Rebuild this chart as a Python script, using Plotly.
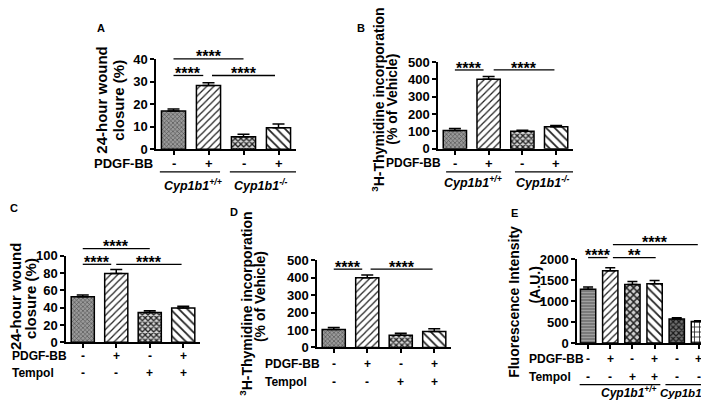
import plotly.graph_objects as go

W, H = 709, 401
FONT = "Liberation Sans, Arial, sans-serif"

# ---------------- data ----------------
a_vals = [17.0, 28.3, 5.6, 9.6]
a_errs = [0.9, 1.3, 1.1, 1.6]
a_ticks = [0, 10, 20, 30, 40]

b_vals = [105, 402, 101, 128]
b_errs = [12, 16, 6, 6]
b_ticks = [0, 100, 200, 300, 400, 500]

c_vals = [52.5, 79.5, 34.5, 39.5]
c_errs = [2.2, 4.4, 1.9, 2.2]
c_ticks = [0, 20, 40, 60, 80, 100]

d_vals = [103, 400, 70, 92]
d_errs = [12, 16, 12, 15]
d_ticks = [0, 100, 200, 300, 400, 500]

e_vals = [1285, 1730, 1400, 1420, 577, 517]
e_errs = [55, 75, 70, 75, 25, 15]
e_ticks = [0, 500, 1000, 1500, 2000]

pdgf_ab = ["-", "+", "-", "+"]
pdgf_cd = ["-", "+", "-", "+"]
tempol_cd = ["-", "-", "+", "+"]
pdgf_e = ["-", "+", "-", "+", "-", "+"]
tempol_e = ["-", "-", "+", "+", "-", "-"]
genotypes = ["<i>Cyp1b1</i><sup><i>+/+</i></sup>", "<i>Cyp1b1</i><sup><i>-/-</i></sup>"]

a_title = ["24-hour wound", "closure (%)"]
b_title = ["<sup>3</sup>H-Thymidine incorporation", "(% of Vehicle)"]
e_title = ["Fluorescence Intensity", "(A.U.)"]

# significance: (from category, to category, level, label)
a_sig = [(0.0, 2.0, 40.2, "****"), (0.0, 0.85, 32.8, "****"), (1.1, 2.9, 32.8, "****")]
b_sig = [(0.0, 0.85, 455, "****"), (1.15, 2.95, 455, "****")]
c_sig = [(0.0, 2.0, 108, "****"), (0.0, 0.85, 90, "****"), (1.0, 2.95, 90, "****")]
d_sig = [(0.0, 0.85, 450, "****"), (1.1, 2.95, 450, "****")]
e_sig = [(0.0, 0.88, 2046, "****"), (1.12, 3.05, 2046, "**"), (1.12, 4.95, 2357, "****")]

# ---------------- geometry (pixels) ----------------
panels = {
    "A": dict(sid="", x0=148, x1=288, yz=139.5, yt=46, top=40, n=4),
    "B": dict(sid="2", x0=430, x1=565, yz=139, yt=49, top=500, n=4),
    "C": dict(sid="3", x0=58, x1=192, yz=340, yt=250, top=100, n=4),
    "D": dict(sid="4", x0=309, x1=443, yz=345.3, yt=255, top=500, n=4),
    "E": dict(sid="5", x0=569, x1=702, yz=340.7, yt=254, top=2000, n=6),
}


def cx(g, cat):
    return g["x0"] + (cat + 0.5) / g["n"] * (g["x1"] - g["x0"])


def vy(g, v):
    return g["yz"] - v / g["top"] * (g["yz"] - g["yt"])


def PX(x):
    return x / W


def PY(y):
    return 1 - y / H


# bar styles
GRAY = dict(shape="x", fg="#4a4a4a", bg="#9a9a9a", size=3, sol=0.35)
FWD = dict(shape="/", fg="#222222", bg="white", size=5, sol=0.25)
CHK = dict(shape="x", fg="#222222", bg="#d8d8d8", size=4, sol=0.55)
BCK = dict(shape="\\", fg="#222222", bg="white", size=6, sol=0.3)
HLN = dict(shape="-", fg="#555555", bg="#a8a8a8", size=3, sol=0.4)
CHK2 = dict(shape="x", fg="#222222", bg="#d0d0d0", size=5, sol=0.5)
DCHK = dict(shape="x", fg="#1a1a1a", bg="#707070", size=4, sol=0.5)
GRID = dict(shape="+", fg="#222222", bg="white", size=5, sol=0.3)

styles4 = [GRAY, FWD, CHK, BCK]
styles6 = [HLN, FWD, CHK2, BCK, DCHK, GRID]

fig = go.Figure()
layout = dict(
    width=W, height=H, margin=dict(l=0, r=0, t=0, b=0),
    paper_bgcolor="white", plot_bgcolor="white", showlegend=False,
    font=dict(family=FONT, size=12, color="black", weight="bold"),
    bargap=0.3,
)
shapes = []
annotations = []


def ann(x, y, text, size=12, angle=0, xanchor="center"):
    annotations.append(dict(
        x=PX(x), y=PY(y), xref="paper", yref="paper", text=text, showarrow=False,
        textangle=angle, xanchor=xanchor, yanchor="middle",
        font=dict(family=FONT, size=size, color="black", weight="bold"),
    ))


def hline(x0, x1, y, w=1.3):
    shapes.append(dict(type="line", xref="paper", yref="paper",
                       x0=PX(x0), x1=PX(x1), y0=PY(y), y1=PY(y),
                       line=dict(color="black", width=w)))


for key, vals, errs, ticks, styles in [
    ("A", a_vals, a_errs, a_ticks, styles4),
    ("B", b_vals, b_errs, b_ticks, styles4),
    ("C", c_vals, c_errs, c_ticks, styles4),
    ("D", d_vals, d_errs, d_ticks, styles4),
    ("E", e_vals, e_errs, e_ticks, styles6),
]:
    g = panels[key]
    sid = g["sid"]
    n = g["n"]
    cats = list(range(n))
    fig.add_trace(go.Bar(
        x=cats, y=vals, xaxis="x" + sid, yaxis="y" + sid, width=0.69,
        marker=dict(
            color="white", line=dict(color="black", width=1.5),
            pattern=dict(
                shape=[s["shape"] for s in styles],
                fgcolor=[s["fg"] for s in styles],
                bgcolor=[s["bg"] for s in styles],
                size=[s["size"] for s in styles],
                solidity=[s["sol"] for s in styles],
                fillmode="replace",
            ),
        ),
        error_y=dict(type="data", array=errs, arrayminus=[0] * n, symmetric=False,
                     color="black", thickness=1.5, width=6 if n == 4 else 5),
        hoverinfo="skip",
    ))
    layout["xaxis" + sid] = dict(
        domain=[PX(g["x0"]), PX(g["x1"])], range=[-0.5, n - 0.5], anchor="y" + sid,
        showline=True, linecolor="black", linewidth=1.5, ticks="outside", ticklen=4,
        tickwidth=1.5, tickcolor="black", tickvals=cats, showticklabels=False,
        showgrid=False, zeroline=False, fixedrange=True,
    )
    layout["yaxis" + sid] = dict(
        domain=[PY(g["yz"]), PY(g["yt"])], range=[0, g["top"]], anchor="x" + sid,
        showline=True, linecolor="black", linewidth=1.5, ticks="outside", ticklen=4,
        tickwidth=1.5, tickcolor="black", tickvals=ticks, ticktext=[str(t) for t in ticks],
        tickfont=dict(family=FONT, size=13, color="black", weight="bold"),
        showgrid=False, zeroline=False, fixedrange=True,
    )

# significance bars
for key, sigs in [("A", a_sig), ("B", b_sig), ("C", c_sig), ("D", d_sig), ("E", e_sig)]:
    g = panels[key]
    for c0, c1, lev, lab in sigs:
        y = vy(g, lev)
        hline(cx(g, c0), cx(g, c1), y)
        ann((cx(g, c0) + cx(g, c1)) / 2, y - 2, lab, size=16)

# panel letters
for lab, x, y in [("A", 93, 13), ("B", 353, 13), ("C", 6, 200), ("D", 226, 205), ("E", 506, 206)]:
    ann(x, y, lab, size=11)

# y-axis titles
ann(94, 88, a_title[0], size=15, angle=-90)
ann(111, 89, a_title[1], size=15, angle=-90)
ann(370, 88, b_title[0], size=14, angle=-90)
ann(384, 88, b_title[1], size=14, angle=-90)
ann(7, 292, a_title[0], size=15, angle=-90)
ann(23, 295, a_title[1], size=15, angle=-90)
ann(238, 300, b_title[0], size=14, angle=-90)
ann(252, 293, b_title[1], size=14, angle=-90)
ann(506, 298, e_title[0], size=14, angle=-90)
ann(527, 281, e_title[1], size=14, angle=-90)

# treatment rows
gA, gB, gC, gD, gE = (panels[k] for k in "ABCDE")
ann(147, 154, "PDGF-BB", size=13, xanchor="right")
for i, s in enumerate(pdgf_ab):
    ann(cx(gA, i), 154, s, size=13)
hline(cx(gA, -0.39), cx(gA, 1.33), 163)
hline(cx(gA, 1.61), cx(gA, 3.5), 163)
ann(cx(gA, 0.55), 177, genotypes[0], size=12.5)
ann(cx(gA, 2.5), 177, genotypes[1], size=12.5)

ann(435, 154, "PDGF-BB", size=12, xanchor="right")
for i, s in enumerate(pdgf_ab):
    ann(cx(gB, i), 154, s, size=13)
hline(cx(gB, -0.26), cx(gB, 1.37), 163)
hline(cx(gB, 1.78), cx(gB, 3.5), 163)
ann(cx(gB, 0.54), 174, genotypes[0], size=12.5)
ann(cx(gB, 2.6), 174, genotypes[1], size=12.5)

ann(2, 354, "PDGF-BB", xanchor="left")
ann(2, 372, "Tempol", xanchor="left")
for i in range(4):
    ann(cx(gC, i), 354, pdgf_cd[i])
    ann(cx(gC, i), 372, tempol_cd[i])

ann(255, 363, "PDGF-BB", xanchor="left")
ann(255, 381, "Tempol", xanchor="left")
for i in range(4):
    ann(cx(gD, i), 363, pdgf_cd[i])
    ann(cx(gD, i), 381, tempol_cd[i])

ann(519, 357, "PDGF-BB", xanchor="left")
ann(519, 376, "Tempol", xanchor="left")
for i in range(6):
    ann(cx(gE, i), 357, pdgf_e[i])
    ann(cx(gE, i), 376, tempol_e[i])
hline(cx(gE, -0.38), cx(gE, 3.26), 384)
hline(cx(gE, 3.49), cx(gE, 5.7), 384)
ann(cx(gE, 1.85), 392, genotypes[0])
ann(703, 392, genotypes[1], size=11.5, xanchor="right")

layout["shapes"] = shapes
layout["annotations"] = annotations
fig.update_layout(**layout)
fig.write_html("out.html")
